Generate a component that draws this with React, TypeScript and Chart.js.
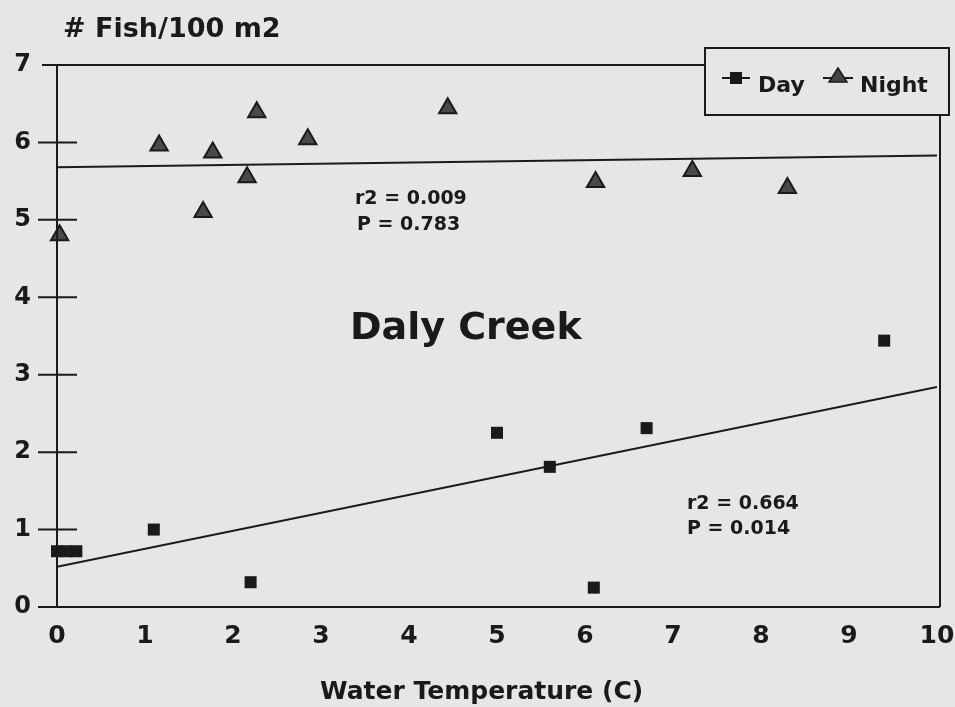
import React, { useEffect, useRef } from "react";
import { Chart, registerables } from "chart.js";

Chart.register(...registerables);

const dayX = [0, 0.11, 0.22, 1.1, 2.2, 5.0, 5.6, 6.1, 6.7, 9.4];
const dayY = [0.72, 0.72, 0.72, 1.0, 0.32, 2.25, 1.81, 0.25, 2.31, 3.44];
const nightX = [0.03, 1.16, 1.66, 1.77, 2.16, 2.27, 2.85, 4.44, 6.12, 7.22, 8.3];
const nightY = [4.8, 5.96, 5.1, 5.87, 5.55, 6.39, 6.04, 6.44, 5.49, 5.63, 5.41];
const dayFitX = [0, 10];
const dayFitY = [0.52, 2.84];
const nightFitX = [0, 10];
const nightFitY = [5.68, 5.83];
const xTicks = [0, 1, 2, 3, 4, 5, 6, 7, 8, 9, 10];
const yTicks = [0, 1, 2, 3, 4, 5, 6, 7];

const FONT = "'DejaVu Sans', sans-serif";
const INK = "#1a1a1a";

const pts = (xs: number[], ys: number[]) => xs.map((x, i) => ({ x, y: ys[i] }));

const decor = {
  id: "decor",
  beforeDraw(chart: any) {
    const { ctx } = chart;
    ctx.save();
    ctx.fillStyle = "#e6e6e6";
    ctx.fillRect(0, 0, chart.width, chart.height);
    ctx.restore();
  },
  afterDatasetsDraw(chart: any) {
    const { ctx, chartArea } = chart;
    const xs = chart.scales.x;
    const ys = chart.scales.y;
    const left = xs.getPixelForValue(0);
    const bottom = ys.getPixelForValue(0);
    const top = ys.getPixelForValue(7);
    const rightB = chartArea.right + 3;
    ctx.save();
    ctx.strokeStyle = INK;
    ctx.lineWidth = 2;
    ctx.beginPath();
    ctx.moveTo(left, top);
    ctx.lineTo(left, bottom);
    ctx.moveTo(left - 19, bottom);
    ctx.lineTo(rightB, bottom);
    ctx.moveTo(left - 15, top);
    ctx.lineTo(705, top);
    ctx.moveTo(rightB, 116);
    ctx.lineTo(rightB, bottom);
    for (const v of yTicks) {
      if (v === 0 || v === 7) continue;
      const py = ys.getPixelForValue(v);
      ctx.moveTo(left - 19, py);
      ctx.lineTo(left + 20, py);
    }
    ctx.stroke();

    // legend box
    ctx.strokeRect(705, 48, 244, 67);
    ctx.beginPath();
    ctx.moveTo(722, 78);
    ctx.lineTo(750, 78);
    ctx.moveTo(823, 78);
    ctx.lineTo(853, 78);
    ctx.stroke();
    ctx.fillStyle = INK;
    ctx.fillRect(730, 72, 12, 12);
    ctx.beginPath();
    ctx.moveTo(838, 68);
    ctx.lineTo(847, 82);
    ctx.lineTo(829, 82);
    ctx.closePath();
    ctx.fillStyle = "#444";
    ctx.fill();
    ctx.lineWidth = 1.5;
    ctx.strokeStyle = INK;
    ctx.stroke();

    ctx.fillStyle = INK;
    ctx.textBaseline = "alphabetic";
    ctx.textAlign = "left";
    ctx.font = `bold 22px ${FONT}`;
    ctx.fillText("Day", 758, 92);
    ctx.fillText("Night", 860, 92);

    ctx.font = `bold 27px ${FONT}`;
    ctx.fillText("# Fish/100 m2", 63, 37);

    ctx.font = `bold 19px ${FONT}`;
    ctx.fillText("r2 = 0.009", 355, 204);
    ctx.fillText("P = 0.783", 357, 230);
    ctx.fillText("r2 = 0.664", 687, 509);
    ctx.fillText("P = 0.014", 687, 534);

    ctx.font = `bold 38px ${FONT}`;
    ctx.fillText("Daly Creek", 350, 339);

    ctx.font = `bold 25px ${FONT}`;
    ctx.fillText("Water Temperature (C)", 320, 699);
    ctx.restore();
  },
};

export default function App() {
  const ref = useRef<HTMLCanvasElement | null>(null);
  useEffect(() => {
    const canvas = ref.current;
    if (!canvas) return;
    const chart = new Chart(canvas, {
      type: "scatter",
      data: {
        datasets: [
          {
            label: "Day",
            data: pts(dayX, dayY),
            pointStyle: "rect",
            pointRadius: 8.5,
            backgroundColor: INK,
            borderColor: INK,
            borderWidth: 0,
            clip: false,
            order: 1,
          },
          {
            label: "Night",
            data: pts(nightX, nightY),
            pointStyle: "triangle",
            pointRadius: 10,
            backgroundColor: "#4a4a4a",
            borderColor: INK,
            borderWidth: 2,
            clip: false,
            order: 1,
          },
          {
            label: "Day fit",
            data: pts(dayFitX, dayFitY),
            showLine: true,
            pointRadius: 0,
            borderColor: INK,
            borderWidth: 2,
            order: 2,
          },
          {
            label: "Night fit",
            data: pts(nightFitX, nightFitY),
            showLine: true,
            pointRadius: 0,
            borderColor: INK,
            borderWidth: 2,
            order: 2,
          },
        ],
      },
      options: {
        animation: false,
        responsive: false,
        maintainAspectRatio: false,
        layout: { padding: { top: 65, right: 18, left: 0, bottom: 0 } },
        plugins: {
          legend: { display: false },
          tooltip: { enabled: false },
        },
        scales: {
          x: {
            type: "linear",
            min: 0,
            max: 10,
            grid: { display: false, drawTicks: false },
            border: { display: false },
            afterBuildTicks: (s: any) => {
              s.ticks = xTicks.map((v) => ({ value: v }));
            },
            afterFit: (s: any) => {
              s.height = 100;
              s.paddingLeft = 0;
              s.paddingRight = 0;
            },
            ticks: {
              padding: 14,
              color: INK,
              font: { family: FONT, size: 25, weight: "bold" },
            },
          },
          y: {
            type: "linear",
            min: 0,
            max: 7,
            grid: { display: false, drawTicks: false },
            border: { display: false },
            afterBuildTicks: (s: any) => {
              s.ticks = yTicks.map((v) => ({ value: v }));
            },
            afterFit: (s: any) => {
              s.width = 57;
            },
            ticks: {
              padding: 26,
              color: INK,
              font: { family: FONT, size: 24, weight: "bold" },
            },
          },
        },
      },
      plugins: [decor],
    });
    return () => chart.destroy();
  }, []);
  return (
    <div style={{ position: "fixed", left: 0, top: 0, width: 955, height: 707 }}>
      <canvas ref={ref} width={955} height={707} style={{ width: 955, height: 707, display: "block" }} />
    </div>
  );
}
